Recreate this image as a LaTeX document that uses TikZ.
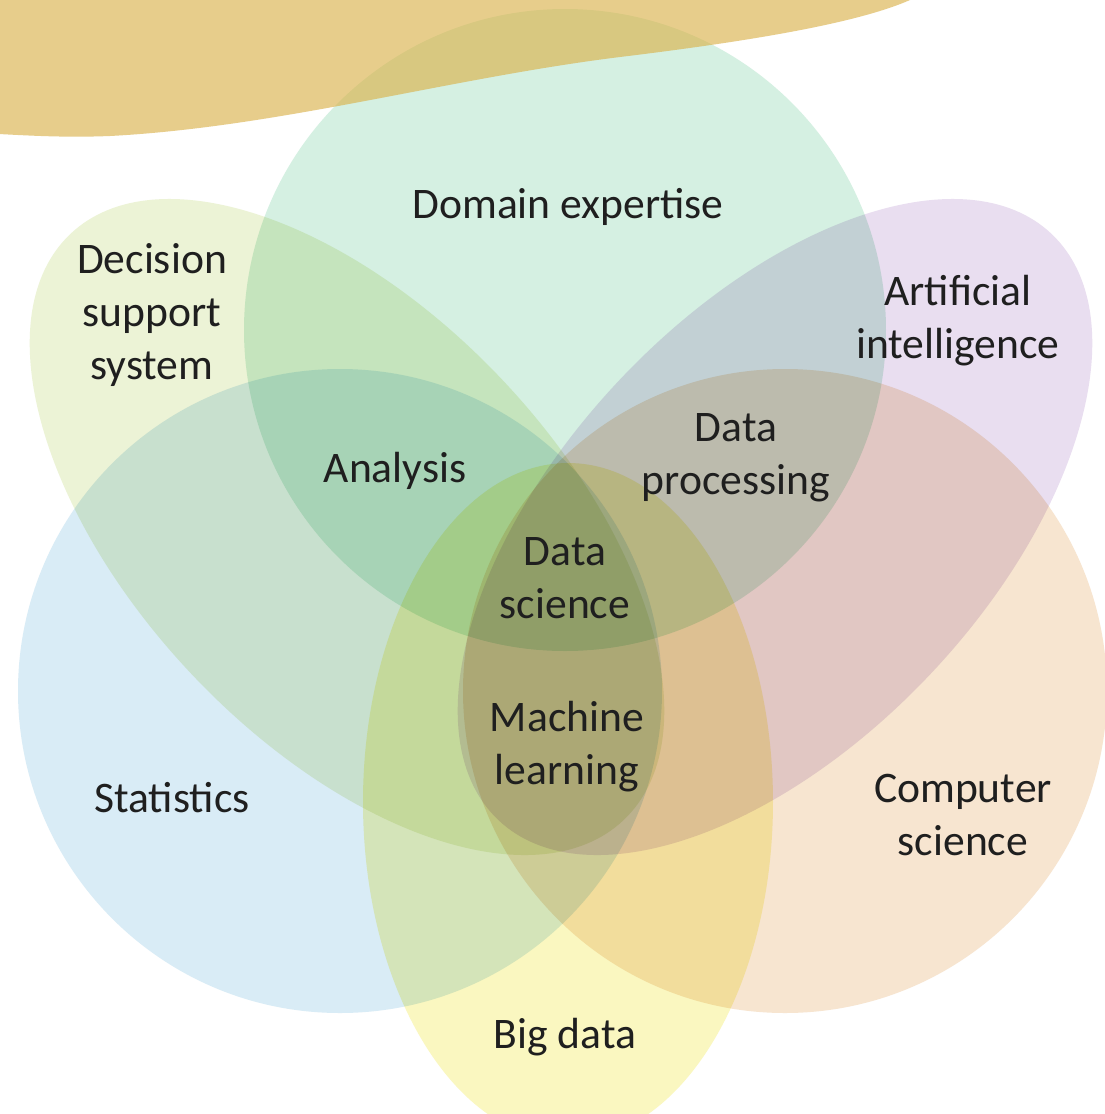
\documentclass[tikz,border=0pt]{standalone}
\usepackage{fontspec}
\setmainfont{Carlito}
\begin{document}
\begin{tikzpicture}[x=0.01cm,y=-0.01cm,
  lbl/.style={align=center,font=\fontsize{12.4}{15.1}\selectfont,text=black!88,inner sep=0pt}]
\definecolor{cDomain}{RGB}{213,240,226}
\definecolor{cDss}{RGB}{236,243,214}
\definecolor{cAi}{RGB}{233,222,240}
\definecolor{cStat}{RGB}{217,236,246}
\definecolor{cCs}{RGB}{247,229,208}
\definecolor{cBig}{RGB}{250,247,192}
\definecolor{cGold}{RGB}{218,177,72}
\useasboundingbox (0,0) rectangle (1105,1114);
\fill[white] (0,0) rectangle (1105,1114);
\clip (0,0) rectangle (1105,1114);
\begin{scope}[blend mode=multiply]
  \fill[cDomain] (565,330) circle [radius=321];
  \fill[cStat] (340,691) circle [radius=322];
  \fill[cCs] (785,691) circle [radius=322];
  \fill[cBig] (568,802) ellipse [x radius=205, y radius=339];
  \fill[cDss, rotate around={-46.7:(347,527)}] (347,527) ellipse [x radius=403, y radius=214];
  \fill[cAi, rotate around={46.7:(775,527)}] (775,527) ellipse [x radius=403, y radius=214];
\end{scope}
\fill[cGold, fill opacity=0.63] (-20,-20) -- (935,-20) -- (910,0)
  .. controls (860,22) and (760,40) .. (620,57)
  .. controls (450,78) and (280,127) .. (110,136)
  .. controls (60,138) and (20,135) .. (-20,133) -- cycle;
\node[lbl] (domain) at (568,207) {Domain expertise};
\node[lbl] (dss) at (152,315) {Decision\\support\\system};
\node[lbl] (ai) at (958,321) {Artificial\\intelligence};
\node[lbl] (analysis) at (395,471) {Analysis};
\node[lbl] (dproc) at (736,458) {Data\\processing};
\node[lbl] (dsci) at (565,578) {Data\\science};
\node[lbl] (ml) at (567,747) {Machine\\learning};
\node[lbl] (stat) at (172,798) {Statistics};
\node[lbl] (cs) at (963,815) {Computer\\science};
\node[lbl] (big) at (565,1037) {Big data};
\end{tikzpicture}
\end{document}
